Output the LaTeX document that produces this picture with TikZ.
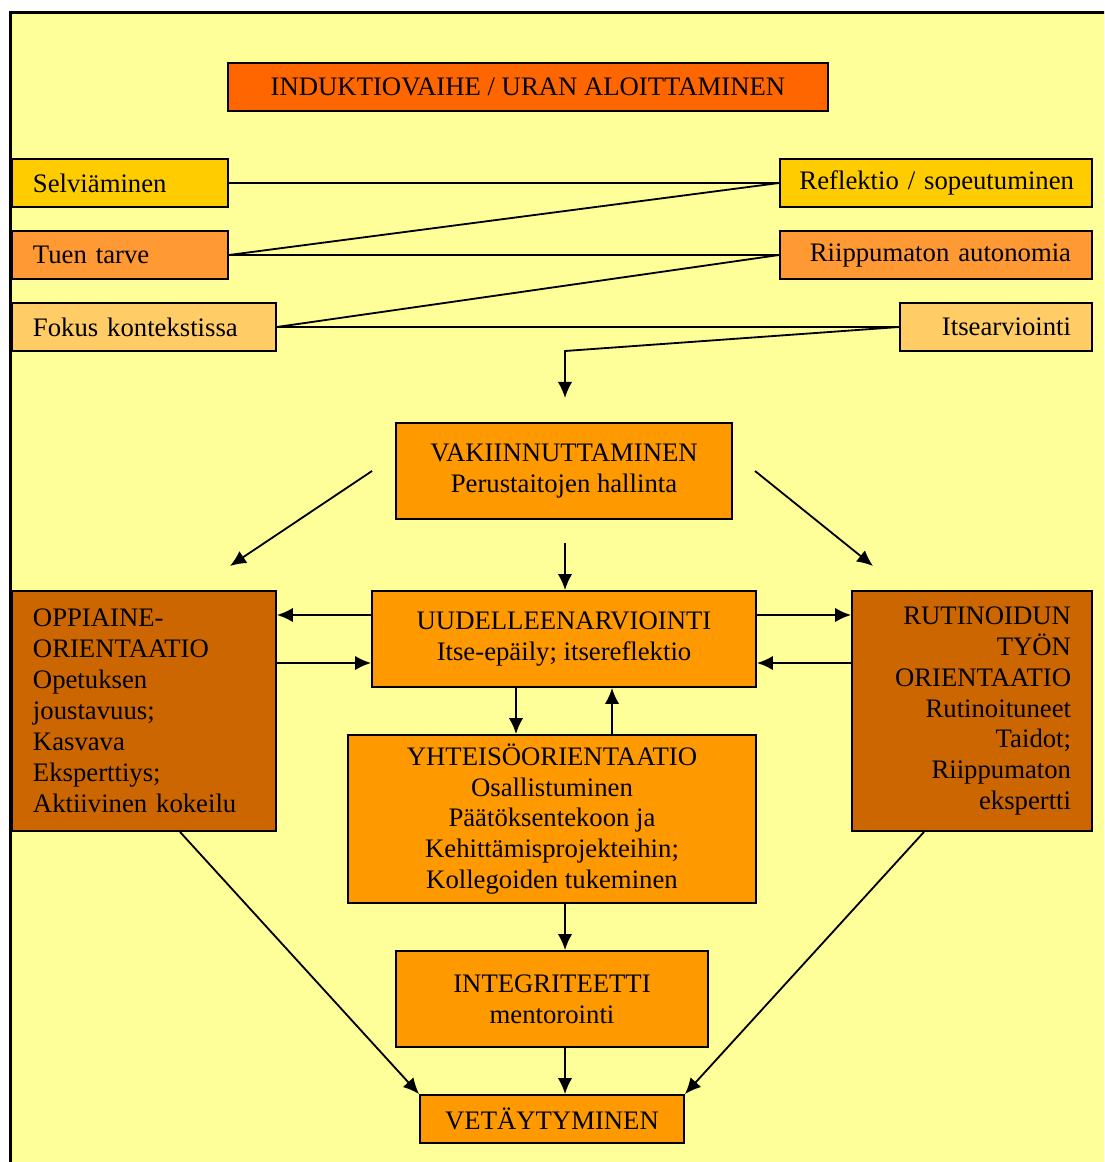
\documentclass[tikz,border=0pt]{standalone}
\usepackage{fontspec}
\setmainfont{Liberation Serif}
\usetikzlibrary{arrows.meta}

\definecolor{bgyellow}{HTML}{FFFF99}
\definecolor{indorange}{HTML}{FF6600}
\definecolor{gold}{HTML}{FFCC00}
\definecolor{lightorange}{HTML}{FF9933}
\definecolor{peach}{HTML}{FFCC66}
\definecolor{mainorange}{HTML}{FF9900}
\definecolor{rust}{HTML}{CC6600}

\begin{document}
\begin{tikzpicture}[x=0.025cm, y=-0.025cm,
        box/.style={draw, line width=1.3pt, inner xsep=0.525cm, inner ysep=0.05cm, font=\fontsize{19}{22}\selectfont},
        lbox/.style={box, align=left},
        rbox/.style={box, align=right},
        cbox/.style={box, align=center},
        link/.style={line width=1.3pt},
        arr/.style={line width=1.3pt, -{Latex[length=0.4cm, width=0.36cm]}}]
        \clip (0,0) rectangle (1104,1162);
        \useasboundingbox (0,0) rectangle (1104,1162);
        \draw[line width=2.6pt, fill=bgyellow] (10.5,12.5) rectangle (1130,1190);
        % upper part
        \node[cbox, fill=indorange, minimum width=15cm, minimum height=1.2cm] (induk) at (528,87) {INDUKTIOVAIHE / URAN ALOITTAMINEN};
        \node[lbox, fill=gold, text width=4.35cm, minimum height=1.2cm] (selv) at (120,183) {Selviäminen};
        \node[lbox, fill=lightorange, text width=4.35cm, minimum height=1.2cm] (tuen) at (120,255) {Tuen tarve};
        \node[lbox, fill=peach, text width=5.55cm, minimum height=1.2cm] (fokus) at (144,327) {Fokus kontekstissa};
        \node[rbox, fill=gold, inner xsep=0.45cm, text width=6.9cm, minimum height=1.2cm] (refl) at (936,183) {Reflektio / sopeutuminen};
        \node[rbox, fill=lightorange, text width=6.75cm, minimum height=1.2cm] (riipp) at (936,255) {Riippumaton autonomia};
        \node[rbox, fill=peach, text width=3.75cm, minimum height=1.2cm] (itse) at (996,327) {Itsearviointi};
        % middle part
        \node[cbox, fill=mainorange, minimum width=8.4cm, minimum height=2.4cm] (vakiin) at (564,471) {VAKIINNUTTAMINEN\\Perustaitojen hallinta};
        \node[lbox, fill=rust, text width=5.55cm, minimum height=6cm] (oppi) at (144,711) {OPPIAINE-\\ORIENTAATIO\\Opetuksen\\joustavuus;\\Kasvava\\Eksperttiys;\\Aktiivinen kokeilu};
        \node[cbox, fill=mainorange, minimum width=9.6cm, minimum height=2.4cm] (uudel) at (564,639) {UUDELLEENARVIOINTI\\Itse-epäily; itsereflektio};
        \node[rbox, fill=rust, text width=4.95cm, minimum height=6cm] (rutin) at (972,711) {RUTINOIDUN\\TYÖN\\ORIENTAATIO\\Rutinoituneet\\Taidot;\\Riippumaton\\ekspertti};
        \node[cbox, fill=mainorange, minimum width=10.2cm, minimum height=4.2cm] (yhtei) at (552,819) {YHTEISÖORIENTAATIO\\Osallistuminen\\Päätöksentekoon ja\\Kehittämisprojekteihin;\\Kollegoiden tukeminen};
        \node[cbox, fill=mainorange, minimum width=7.8cm, minimum height=2.4cm] (integ) at (552,999) {INTEGRITEETTI\\mentorointi};
        \node[cbox, fill=mainorange, minimum width=6.6cm, minimum height=1.2cm] (vetay) at (552,1119) {VETÄYTYMINEN};
        % free ends
        \coordinate (bend) at (565,351);
        \coordinate (vtop) at (565,398);
        \coordinate (vl) at (372,471);
        \coordinate (vlend) at (230,566);
        \coordinate (vr) at (755,471);
        \coordinate (vrend) at (873,566);
        \coordinate (vd) at (565,543);
        % connectors
        \draw[link] (selv.east) -- (refl.west);
        \draw[link] (tuen.east) -- (refl.west);
        \draw[link] (tuen.east) -- (riipp.west);
        \draw[link] (fokus.east) -- (riipp.west);
        \draw[link] (fokus.east) -- (itse.west);
        \draw[arr] (itse.west) -- (bend) -- (vtop);
        \draw[arr] (vl) -- (vlend);
        \draw[arr] (vr) -- (vrend);
        \draw[arr] (vd) -- (vd |- uudel.north);
        \draw[arr] ([yshift=0.6cm]uudel.west) -- ([yshift=0.6cm]uudel.west -| oppi.east);
        \draw[arr] ([yshift=-0.6cm]uudel.west -| oppi.east) -- ([yshift=-0.6cm]uudel.west);
        \draw[arr] ([yshift=0.6cm]uudel.east) -- ([yshift=0.6cm]uudel.east -| rutin.west);
        \draw[arr] ([yshift=-0.6cm]uudel.east -| rutin.west) -- ([yshift=-0.6cm]uudel.east);
        \draw[arr] ([xshift=-1.2cm]uudel.south) -- ([xshift=-1.2cm]uudel.south |- yhtei.north);
        \draw[arr] ([xshift=1.2cm]uudel.south |- yhtei.north) -- ([xshift=1.2cm]uudel.south);
        \draw[arr] ([xshift=0.325cm]yhtei.south) -- ([xshift=0.325cm]yhtei.south |- integ.north);
        \draw[arr] ([xshift=0.325cm]integ.south) -- ([xshift=0.325cm]integ.south |- vetay.north);
        \draw[arr] ([xshift=0.9cm]oppi.south) -- (vetay.north west);
        \draw[arr] ([xshift=-1.2cm]rutin.south) -- (vetay.north east);
\end{tikzpicture}
\end{document}
